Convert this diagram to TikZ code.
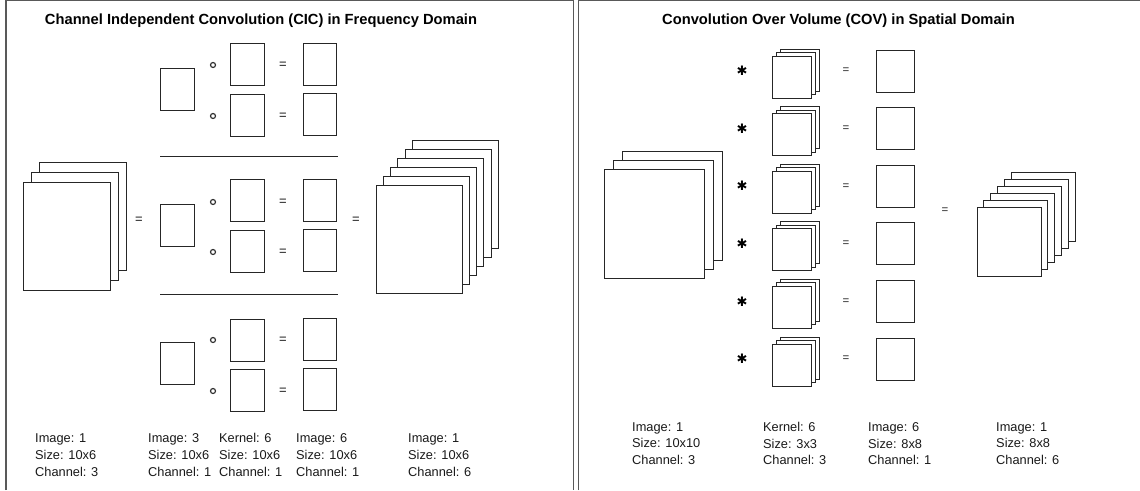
\documentclass[tikz,border=0pt]{standalone}
\usepackage{fontspec}
\setmainfont{Liberation Sans}
\newfontfamily\symfont{DejaVu Sans}

\begin{document}
\begin{tikzpicture}[x=1pt,y=-1pt,
  panelframe/.style={draw=black!65, line width=1.3pt},
  sheet/.style={draw=black!85, fill=white, line width=1pt, inner sep=0pt, outer sep=0pt},
  cell/.style={sheet, minimum width=34pt, minimum height=42pt},
  ring/.style={circle, draw=black!80, line width=1.2pt, minimum size=5pt, inner sep=0pt},
  eqsign/.style={inner sep=0pt, font=\fontsize{13}{13}\selectfont, text=black!90},
  eqsmall/.style={inner sep=0pt, font=\fontsize{11.5}{11.5}\selectfont, text=black!85},
  conv/.style={inner sep=0pt, font=\symfont\bfseries\fontsize{13}{13}\selectfont},
  heading/.style={anchor=base, inner sep=0pt, font=\bfseries\fontsize{14.7}{16}\selectfont},
  info/.style={anchor=north west, inner sep=0pt, align=left, font=\fontsize{12.8}{17}\selectfont, text=black!90},
  infor/.style={info, font=\fontsize{12.8}{16.5}\selectfont},
  sepline/.style={draw=black!85, line width=1pt}]

\useasboundingbox (0,0) rectangle (1140,490);

% panel borders
\draw[panelframe] (6,490) -- (6,0.6) -- (573.5,0.6) -- (573.5,490);
\draw[panelframe] (578.5,490) -- (578.5,0.6) -- (1140,0.6);

% ---------------- CIC panel ----------------
\node[heading] (cictitle) at (261,24.3) {Channel Independent Convolution (CIC) in Frequency Domain};

% input image, 3 channels
\foreach \k in {2,1,0}
  \node[sheet, minimum width=87pt, minimum height=108pt] (cin\k) at ({66.5+8*\k},{236-10*\k}) {};
\node[eqsign] (cieq) at (139,220) {=};

% per-channel products
\foreach \g/\iy/\ka/\kb/\ra/\rb/\oa/\ob in
  {1/89/64.5/115.5/64.5/114.5/65/116,
   2/225.5/200.5/251/200/250/202/252,
   3/363/340/390/339/389.5/340/391}{
  \node[cell] (cimg\g) at (177,\iy) {};
  \node[ring] (crga\g) at (213,\oa) {};
  \node[ring] (crgb\g) at (213,\ob) {};
  \node[cell] (cka\g) at (247,\ka) {};
  \node[cell] (ckb\g) at (247,\kb) {};
  \node[eqsign] (ceqa\g) at (283,\oa) {=};
  \node[eqsign] (ceqb\g) at (283,\ob) {=};
  \node[cell, minimum width=33pt] (cra\g) at (319.5,\ra) {};
  \node[cell, minimum width=33pt] (crb\g) at (319.5,\rb) {};
}

% separators between the channel groups
\coordinate (sepAl) at (160,156);
\coordinate (sepAr) at (338,156);
\coordinate (sepBl) at (160,294);
\coordinate (sepBr) at (338,294);
\draw[sepline] (sepAl) -- (sepAr);
\draw[sepline] (sepBl) -- (sepBr);

% output image, 6 channels
\node[eqsign] (coeq) at (356,220) {=};
\foreach \k in {5,4,...,0}
  \node[sheet, minimum width=86pt, minimum height=108pt] (cout\k) at ({419+7.3*\k},{239-9*\k}) {};

% captions
\node[info] (capa) at (35,433.4) {Image: 1\\Size: 10x6\\Channel: 3};
\node[info] (capb) at (148,433.4) {Image: 3\\Size: 10x6\\Channel: 1};
\node[info] (capc) at (219,433.4) {Kernel: 6\\Size: 10x6\\Channel: 1};
\node[info] (capd) at (296,433.4) {Image: 6\\Size: 10x6\\Channel: 1};
\node[info] (cape) at (408,433.4) {Image: 1\\Size: 10x6\\Channel: 6};

% ---------------- COV panel ----------------
\node[heading] (covtitle) at (838.5,24.3) {Convolution Over Volume (COV) in Spatial Domain};

% input volume
\foreach \k in {2,1,0}
  \node[sheet, minimum width=100pt, minimum height=109pt] (vin\k) at ({654+9*\k},{223.5-9*\k}) {};

% six kernels, each a 3-channel volume
\foreach \i in {0,...,5}{
  \pgfmathsetmacro\ry{71+57.6*\i}
  \node[conv] (vast\i) at (742,\ry) {✱};
  \foreach \k in {2,1,0}
    \node[sheet, minimum width=39pt, minimum height=42pt] (vk\i-\k) at ({791.5+4*\k},{\ry+6-3.5*\k}) {};
  \node[eqsmall] (veq\i) at (846,\ry) {=};
  \node[sheet, minimum width=38pt, minimum height=42pt] (vres\i) at (895,\ry) {};
}

% stacked output
\node[eqsmall] (voeq) at (945,211) {=};
\foreach \k in {5,4,...,0}
  \node[sheet, minimum width=64pt, minimum height=69pt] (vout\k) at ({1009+6.8*\k},{241.5-7*\k}) {};

% captions
\node[infor] (vcapa) at (632,422.4) {Image: 1\\Size: 10x10\\Channel: 3};
\node[infor] (vcapb) at (763,422.4) {Kernel: 6\\Size: 3x3\\Channel: 3};
\node[infor] (vcapc) at (868,422.4) {Image: 6\\Size: 8x8\\Channel: 1};
\node[infor] (vcapd) at (996,422.4) {Image: 1\\Size: 8x8\\Channel: 6};

\end{tikzpicture}
\end{document}
